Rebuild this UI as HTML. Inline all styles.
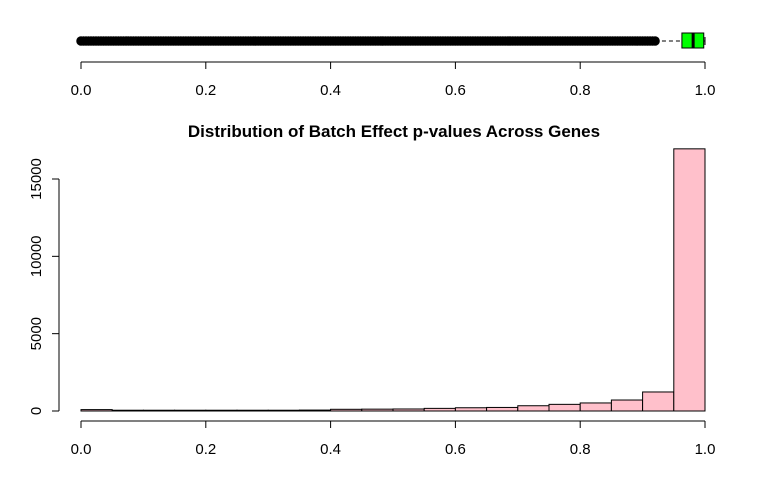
<!DOCTYPE html>
<html><head><meta charset="utf-8"><style>
body{margin:0;background:#fff}
svg{display:block;font-family:"Liberation Sans",sans-serif}
</style></head><body>
<svg id="c" width="768" height="480" viewBox="0 0 768 480">
<text x="394" y="137" text-anchor="middle" font-size="17" font-weight="bold">Distribution of Batch Effect p-values Across Genes</text>
</svg>
<script>
const binEdges=[0,0.05,0.1,0.15,0.2,0.25,0.3,0.35,0.4,0.45,0.5,0.55,0.6,0.65,0.7,0.75,0.8,0.85,0.9,0.95,1.0];
const counts=[90,50,50,50,50,50,50,60,110,120,130,170,210,230,340,430,520,710,1230,16950];
const xTicks=[0,0.2,0.4,0.6,0.8,1.0];
const xTickLabels=["0.0","0.2","0.4","0.6","0.8","1.0"];
const yTicks=[0,5000,10000,15000];
const boxStats=[0.931,0.963,0.981,0.998,1.0];
const outliers=[0,0.004,0.008,0.012,0.016,0.02,0.024,0.028,0.032,0.036,0.04,0.044,0.048,0.052,0.056,0.06,0.064,0.068,0.072,0.076,0.08,0.084,0.088,0.092,0.096,0.1,0.104,0.108,0.112,0.116,0.12,0.124,0.128,0.132,0.136,0.14,0.144,0.148,0.152,0.156,0.16,0.164,0.168,0.172,0.176,0.18,0.184,0.188,0.192,0.196,0.2,0.204,0.208,0.212,0.216,0.22,0.224,0.228,0.232,0.236,0.24,0.244,0.248,0.252,0.256,0.26,0.264,0.268,0.272,0.276,0.28,0.284,0.288,0.292,0.296,0.3,0.304,0.308,0.312,0.316,0.32,0.324,0.328,0.332,0.336,0.34,0.344,0.348,0.352,0.356,0.36,0.364,0.368,0.372,0.376,0.38,0.384,0.388,0.392,0.396,0.4,0.404,0.408,0.412,0.416,0.42,0.424,0.428,0.432,0.436,0.44,0.444,0.448,0.452,0.456,0.46,0.464,0.468,0.472,0.476,0.48,0.484,0.488,0.492,0.496,0.5,0.504,0.508,0.512,0.516,0.52,0.524,0.528,0.532,0.536,0.54,0.544,0.548,0.552,0.556,0.56,0.564,0.568,0.572,0.576,0.58,0.584,0.588,0.592,0.596,0.6,0.604,0.608,0.612,0.616,0.62,0.624,0.628,0.632,0.636,0.64,0.644,0.648,0.652,0.656,0.66,0.664,0.668,0.672,0.676,0.68,0.684,0.688,0.692,0.696,0.7,0.704,0.708,0.712,0.716,0.72,0.724,0.728,0.732,0.736,0.74,0.744,0.748,0.752,0.756,0.76,0.764,0.768,0.772,0.776,0.78,0.784,0.788,0.792,0.796,0.8,0.804,0.808,0.812,0.816,0.82,0.824,0.828,0.832,0.836,0.84,0.844,0.848,0.852,0.856,0.86,0.864,0.868,0.872,0.876,0.88,0.884,0.888,0.892,0.896,0.9,0.904,0.908,0.912,0.916,0.92];
const svg=document.getElementById('c');
const NS='http://www.w3.org/2000/svg';
const X=v=>81+624*v;
const Y=v=>411-v*(232/15000);
function mk(t,a,p){const e=document.createElementNS(NS,t);for(const k in a)e.setAttribute(k,a[k]);(p||svg).appendChild(e);return e;}
counts.forEach((c,i)=>{
  const r=mk('rect',{x:X(binEdges[i]),y:Y(c),width:X(binEdges[i+1])-X(binEdges[i]),height:Y(0)-Y(c),fill:'#ffc0cb',stroke:'#000','stroke-width':1});
  
  
});
function xAxis(y,name){
  const g=mk('g',{});
  
  
  mk('line',{x1:X(0),x2:X(1),y1:y,y2:y,stroke:'#000'},g);
  xTicks.forEach((t,i)=>{
    mk('line',{x1:X(t),x2:X(t),y1:y,y2:y+7,stroke:'#000'},g);
    const tx=mk('text',{x:X(t),y:y+33,'text-anchor':'middle','font-size':15},g);
    tx.textContent=xTickLabels[i];
  });
}
xAxis(421,'histogram-x-axis');
xAxis(62,'boxplot-x-axis');
const ya=mk('g',{});


mk('line',{x1:59,x2:59,y1:Y(0),y2:Y(15000),stroke:'#000'},ya);
yTicks.forEach(t=>{
  mk('line',{x1:52,x2:59,y1:Y(t),y2:Y(t),stroke:'#000'},ya);
  const tx=mk('text',{x:41,y:Y(t),'text-anchor':'middle','font-size':15,transform:`rotate(-90 41 ${Y(t)})`},ya);
  tx.textContent=t;
});
const bg=mk('g',{});


outliers.forEach(v=>{
  const c=mk('circle',{cx:X(v),cy:41,r:4,fill:'#000',stroke:'#000','stroke-width':1.5},bg);
  
  
});
mk('line',{x1:X(boxStats[0]),x2:X(boxStats[1]),y1:41,y2:41,stroke:'#000','stroke-dasharray':'4,3'},bg);
mk('line',{x1:X(boxStats[3]),x2:X(boxStats[4]),y1:41,y2:41,stroke:'#000','stroke-dasharray':'4,3'},bg);
mk('line',{x1:X(boxStats[4]),x2:X(boxStats[4]),y1:37,y2:45,stroke:'#000'},bg);
mk('rect',{x:X(boxStats[1]),y:33,width:X(boxStats[3])-X(boxStats[1]),height:15,fill:'#00ff00',stroke:'#000'},bg);
mk('line',{x1:X(boxStats[2]),x2:X(boxStats[2]),y1:33,y2:48,stroke:'#000','stroke-width':3},bg);
</script>
</body></html>
